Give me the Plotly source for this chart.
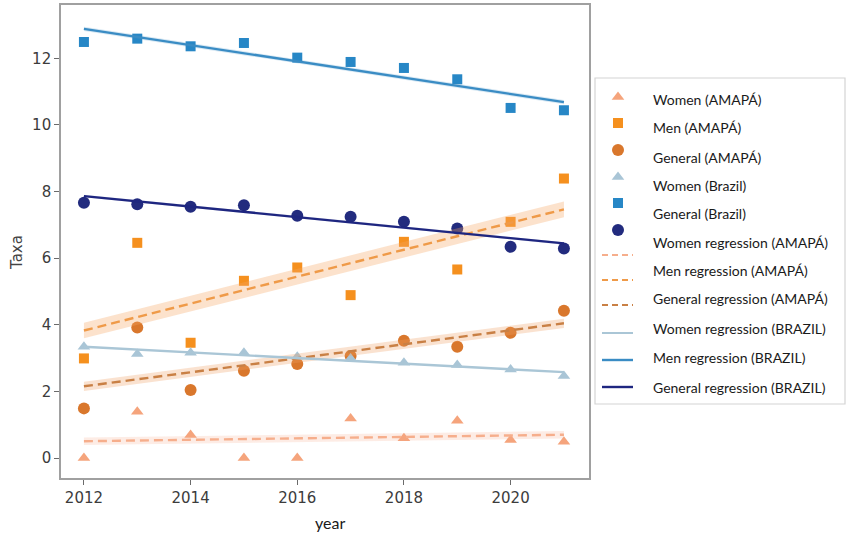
import numpy as np
import plotly.graph_objects as go

# ---- data -------------------------------------------------------------
years = [2012, 2013, 2014, 2015, 2016, 2017, 2018, 2019, 2020, 2021]

women_amapa = [0.0, 1.39, 0.69, 0.0, 0.0, 1.19, 0.59, 1.12, 0.54, 0.49]
men_amapa = [2.99, 6.46, 3.46, 5.32, 5.72, 4.89, 6.49, 5.66, 7.09, 8.39]
general_amapa = [1.49, 3.92, 2.04, 2.62, 2.82, 3.06, 3.52, 3.34, 3.76, 4.42]
women_brazil = [3.34, 3.12, 3.16, 3.16, 3.04, 2.99, 2.86, 2.79, 2.66, 2.46]
men_brazil = [12.49, 12.59, 12.36, 12.46, 12.02, 11.89, 11.71, 11.37, 10.51, 10.44]
general_brazil = [7.66, 7.62, 7.54, 7.59, 7.27, 7.24, 7.09, 6.89, 6.34, 6.29]

x_ticks = [2012, 2014, 2016, 2018, 2020]
y_ticks = [0, 2, 4, 6, 8, 10, 12]

legend_labels = [
    "Women (AMAPÁ)", "Men (AMAPÁ)", "General (AMAPÁ)", "Women (Brazil)",
    "General (Brazil)", "Women regression (AMAPÁ)", "Men regression (AMAPÁ)",
    "General regression (AMAPÁ)", "Women regression (BRAZIL)",
    "Men regression (BRAZIL)", "General regression (BRAZIL)",
]

# ---- styling ----------------------------------------------------------
W, H = 846, 535
C_WOMEN_AP = "#f5a47c"
C_MEN_AP = "#f5901e"
C_GEN_AP = "#d9772c"
C_WOMEN_BR = "#a9c5d6"
C_MEN_BR = "#2787c6"
C_GEN_BR = "#222b7e"
L_WOMEN_AP = "#f6ae8c"
L_MEN_AP = "#ef9a48"
L_GEN_AP = "#c98045"
L_WOMEN_BR = "#aac6d6"
L_MEN_BR = "#3a8cc4"
L_GEN_BR = "#1e2680"
DASH = "9px,5px"
BAND_K = 0.21  # band half-width as a fraction of the residual std. error

# plot area in pixels
PX_L, PX_R, PX_T, PX_B = 61, 589, 5, 478


def regression(y):
    x = np.array(years, dtype=float)
    y = np.array(y, dtype=float)
    n = len(x)
    slope, icpt = np.polyfit(x, y, 1)
    xs = np.linspace(x.min(), x.max(), 60)
    pred = icpt + slope * xs
    resid = y - (icpt + slope * x)
    s = np.sqrt((resid ** 2).sum() / (n - 2))
    half = BAND_K * s
    return xs, pred, pred - half, pred + half


fig = go.Figure()

reg_specs = [
    (women_amapa, L_WOMEN_AP, DASH, "rgba(247,170,135,0.22)"),
    (men_amapa, L_MEN_AP, DASH, "rgba(246,166,100,0.33)"),
    (general_amapa, L_GEN_AP, DASH, "rgba(240,160,100,0.30)"),
    (women_brazil, L_WOMEN_BR, "solid", "rgba(170,198,214,0.25)"),
    (men_brazil, L_MEN_BR, "solid", "rgba(58,140,196,0.20)"),
    (general_brazil, L_GEN_BR, "solid", "rgba(30,38,128,0.15)"),
]

# scatter markers
marker_specs = [
    (women_amapa, "triangle-up", C_WOMEN_AP, 11),
    (men_amapa, "square", C_MEN_AP, 10),
    (general_amapa, "circle", C_GEN_AP, 12),
    (women_brazil, "triangle-up", C_WOMEN_BR, 11),
    (men_brazil, "square", C_MEN_BR, 10),
    (general_brazil, "circle", C_GEN_BR, 12),
]
for ys, sym, col, sz in marker_specs:
    fig.add_trace(go.Scatter(
        x=years, y=ys, mode="markers",
        marker=dict(symbol=sym, color=col, size=sz, line=dict(width=0)),
        showlegend=False,
    ))

# shaded bands
for ys, col, dash, fill in reg_specs:
    xs, pred, lo, hi = regression(ys)
    fig.add_trace(go.Scatter(
        x=np.concatenate([xs, xs[::-1]]), y=np.concatenate([hi, lo[::-1]]),
        fill="toself", fillcolor=fill, line=dict(width=0),
        mode="lines", hoverinfo="skip", showlegend=False,
    ))

# regression lines
for ys, col, dash, fill in reg_specs:
    xs, pred, lo, hi = regression(ys)
    fig.add_trace(go.Scatter(
        x=xs, y=pred, mode="lines",
        line=dict(color=col, width=2.4, dash=dash),
        showlegend=False,
    ))

# ---- hand-built legend on its own pixel-scaled axes --------------------
LG_L, LG_R, LG_T, LG_B = 595, 846, 78, 404
hx = 618
handle_y = [97, 123, 150, 177, 203, 230, 255, 280, 305, 333, 360, 387]
label_y = [100, 128, 157, 185, 213, 242, 270, 298, 328, 357, 387]
handle_kinds = [
    ("m", "triangle-up", C_WOMEN_AP, 11),
    ("m", "square", C_MEN_AP, 10),
    ("m", "circle", C_GEN_AP, 12),
    ("m", "triangle-up", C_WOMEN_BR, 11),
    ("m", "square", C_MEN_BR, 10),
    ("m", "circle", C_GEN_BR, 12),
    ("l", "6px,4px", L_WOMEN_AP, 2),
    ("l", "6px,4px", L_MEN_AP, 2),
    ("l", "6px,4px", L_GEN_AP, 2),
    ("l", "solid", L_WOMEN_BR, 2),
    ("l", "solid", L_MEN_BR, 2.4),
    ("l", "solid", L_GEN_BR, 2.4),
]
for hy, (kind, sty, col, sz) in zip(handle_y, handle_kinds):
    if kind == "m":
        fig.add_trace(go.Scatter(
            x=[hx], y=[hy], mode="markers", xaxis="x2", yaxis="y2",
            marker=dict(symbol=sty, color=col, size=sz, line=dict(width=0)),
            showlegend=False, hoverinfo="skip",
        ))
    else:
        fig.add_trace(go.Scatter(
            x=[602, 633], y=[hy, hy], mode="lines", xaxis="x2", yaxis="y2",
            line=dict(color=col, width=sz, dash=sty),
            showlegend=False, hoverinfo="skip",
        ))

annotations = []
for ly, txt in zip(label_y, legend_labels):
    annotations.append(dict(
        x=651, y=ly, xref="x2", yref="y2", text=txt, showarrow=False,
        xanchor="left", yanchor="middle",
        font=dict(family="Lato", size=14, color="#1a1a1a"),
    ))

# axis titles
annotations.append(dict(
    x=17 / W, y=1 - 253 / H, xref="paper", yref="paper", text="Taxa",
    textangle=-90, showarrow=False, xanchor="center", yanchor="middle",
    font=dict(family="DejaVu Sans", size=15, color="#444444"),
))
annotations.append(dict(
    x=330 / W, y=1 - 522 / H, xref="paper", yref="paper", text="year",
    showarrow=False, xanchor="center", yanchor="middle",
    font=dict(family="Lato", size=16, color="#1a1a1a"),
))

shapes = [dict(
    type="rect", xref="paper", yref="paper",
    x0=LG_L / W, x1=(LG_R - 1) / W, y0=1 - LG_B / H, y1=1 - LG_T / H,
    line=dict(color="#d4d4d4", width=1.2), fillcolor="rgba(0,0,0,0)",
    layer="below",
)]

axis_font = dict(family="DejaVu Sans", size=15, color="#3c3c3c")
fig.update_layout(
    width=W, height=H,
    margin=dict(l=0, r=0, t=0, b=0),
    paper_bgcolor="white", plot_bgcolor="white",
    showlegend=False,
    xaxis=dict(
        domain=[PX_L / W, PX_R / W], range=[2011.57, 2021.47],
        tickmode="array", tickvals=x_ticks, ticktext=[str(t) for t in x_ticks],
        ticks="outside", ticklen=5, tickcolor="#6a6a6a", tickwidth=1.2,
        showgrid=False, zeroline=False, showline=True, mirror=True,
        linecolor="#a0a0a0", linewidth=1.6, tickfont=axis_font,
    ),
    yaxis=dict(
        domain=[1 - PX_B / H, 1 - PX_T / H], range=[-0.6, 13.6],
        tickmode="array", tickvals=y_ticks, ticktext=[str(t) for t in y_ticks],
        ticks="outside", ticklen=5, tickcolor="#6a6a6a", tickwidth=1.2,
        showgrid=False, zeroline=False, showline=True, mirror=True,
        linecolor="#a0a0a0", linewidth=1.6, tickfont=axis_font,
    ),
    xaxis2=dict(
        domain=[LG_L / W, LG_R / W], range=[LG_L, LG_R], anchor="y2",
        visible=False, fixedrange=True,
    ),
    yaxis2=dict(
        domain=[1 - LG_B / H, 1 - LG_T / H], range=[LG_B, LG_T], anchor="x2",
        visible=False, fixedrange=True,
    ),
    annotations=annotations,
    shapes=shapes,
)

fig.write_html("out.html")
